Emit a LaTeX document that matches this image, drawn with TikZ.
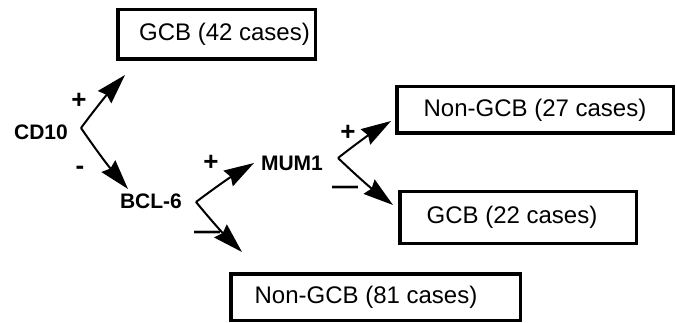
\documentclass[tikz,border=0pt]{standalone}
\usepackage{fontspec}
\setmainfont{Liberation Sans}
\usetikzlibrary{arrows.meta}
\tikzset{
  result/.style={draw, line width=3.5pt, inner sep=0pt, font=\fontsize{24}{26}\selectfont},
  marker/.style={font=\bfseries\fontsize{21}{24}\selectfont, inner sep=0pt},
  sign/.style={font=\bfseries\fontsize{26}{28}\selectfont, inner sep=0pt},
  branch/.style={line width=2pt, -{Stealth[length=30pt,width=18pt,inset=3pt]}},
}
\begin{document}
\begin{tikzpicture}[x=1pt,y=-1pt]
  \useasboundingbox (0,0) rectangle (677,323);

  % outcome boxes
  \node[result, minimum width=197.5pt, minimum height=49.5pt] (g42) at (216.5,34.5) {\hspace*{16pt}GCB (42 cases)};
  \node[result, minimum width=276.5pt, minimum height=46.5pt] (n27) at (535,110) {Non-GCB (27 cases)};
  \node[result, minimum width=236.5pt, minimum height=51.5pt] (g22) at (518,217.5) {GCB (22 cases)\hspace*{12pt}};
  \node[result, minimum width=289.5pt, minimum height=46.5pt] (n81) at (375.5,297) {Non-GCB (81 cases)\hspace*{19pt}};

  % markers
  \node[marker] (cd10) at (41,132) {CD10};
  \node[marker] (bcl6) at (151,201) {BCL-6};
  \node[marker] (mum1) at (292,163) {MUM1};

  % branch points and arrow tips
  \coordinate (a1) at (81,128);
  \coordinate (a2) at (196,202);
  \coordinate (a3) at (338,158);
  \coordinate (t1) at (125,75);
  \coordinate (t2) at (128,189);
  \coordinate (t3) at (254,163);
  \coordinate (t4) at (242,252);
  \coordinate (t5) at (391,121);
  \coordinate (t6) at (393,205);

  % branches
  \draw[branch] (a1) to[bend left=3] (t1);
  \draw[branch] (a1) to[bend right=3] (t2);
  \draw[branch] (a2) to[bend left=3] (t3);
  \draw[branch] (a2) to[bend right=3] (t4);
  \draw[branch] (a3) to[bend left=3] (t5);
  \draw[branch] (a3) to[bend right=3] (t6);

  % branch signs
  \node[sign] (p1) at (79,101) {+};
  \node[sign] (m1) at (80,170) {-};
  \node[sign] (p2) at (211,163) {+};
  \node[sign] (m2) at (207,235) {—};
  \node[sign] (p3) at (348,133) {+};
  \node[sign] (m3) at (345,190) {—};
\end{tikzpicture}
\end{document}
